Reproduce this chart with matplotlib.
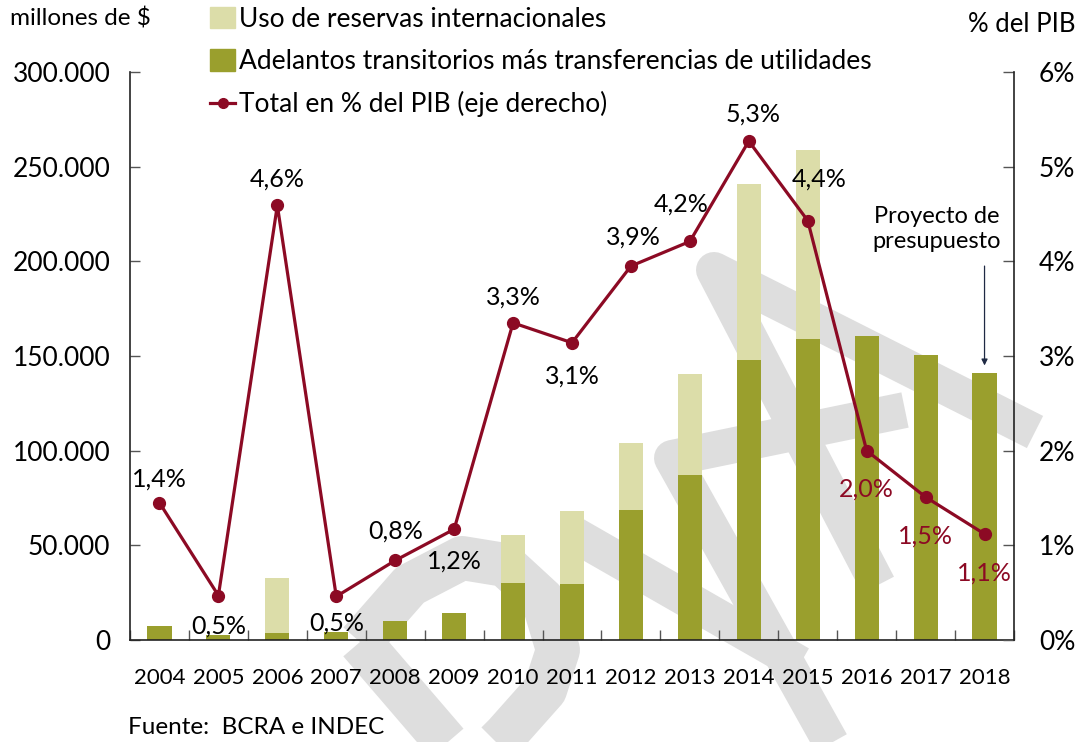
import matplotlib
matplotlib.use("Agg")
import matplotlib.pyplot as plt
from matplotlib.lines import Line2D
from matplotlib.patches import Patch
import numpy as np

plt.rcParams['font.family'] = ['Lato', 'DejaVu Sans']

years = ['2004', '2005', '2006', '2007', '2008', '2009', '2010', '2011',
         '2012', '2013', '2014', '2015', '2016', '2017', '2018']
adelantos = [7400, 2600, 3700, 4200, 10000, 14300, 30100, 29600,
             68700, 87100, 147700, 159000, 160600, 150400, 141000]
reservas = [0, 0, 29000, 0, 0, 0, 25400, 38700,
            35500, 53500, 93100, 99800, 0, 0, 0]
pct_pib = [1.45, 0.47, 4.59, 0.46, 0.84, 1.17, 3.35, 3.14,
           3.95, 4.21, 5.27, 4.43, 2.0, 1.51, 1.12]
pct_labels = ['1,4%', '0,5%', '4,6%', '0,5%', '0,8%', '1,2%', '3,3%', '3,1%',
              '3,9%', '4,2%', '5,3%', '4,4%', '2,0%', '1,5%', '1,1%']
left_ticks = [0, 50000, 100000, 150000, 200000, 250000, 300000]
left_ticklabels = ['0', '50.000', '100.000', '150.000', '200.000', '250.000', '300.000']
right_ticks = [0, 1, 2, 3, 4, 5, 6]
right_ticklabels = ['0%', '1%', '2%', '3%', '4%', '5%', '6%']

DARK = '#9A9F2D'
LIGHT = '#DCDDA9'
RED = '#8C0A24'
W, H = 1083, 742

fig = plt.figure(figsize=(W / 100, H / 100), dpi=100)

# watermark (figure pixel coordinates, y from top)
def wm(pts, lw=36):
    xs = [p[0] / W for p in pts]
    ys = [1 - p[1] / H for p in pts]
    fig.add_artist(Line2D(xs, ys, transform=fig.transFigure, color='#DEDEDE',
                          lw=lw * 0.72, solid_capstyle='butt',
                          solid_joinstyle='round', zorder=-5))

wm([(1035, 432), (714, 270), (878, 585)])
wm([(905, 410), (672, 458), (835, 750)])
wm([(575, 535), (800, 664)])
wm([(470, 770), (360, 642)], lw=44)
wm([(360, 642), (410, 585), (462, 558), (505, 565), (543, 600), (558, 650),
    (545, 690), (505, 735), (470, 770)], lw=44)

ax = fig.add_axes([130 / W, 1 - 640 / H, (1014 - 130) / W, (640 - 72) / H])
ax.patch.set_visible(False)
x = np.arange(len(years))
bw = 0.41
ax.bar(x, adelantos, bw, color=DARK, zorder=2)
ax.bar(x, reservas, bw, bottom=adelantos, color=LIGHT, zorder=2)
ax.set_xlim(-0.5, len(years) - 0.5)
ax.set_ylim(0, 300000)
ax.set_yticks(left_ticks)
ax.set_yticklabels(left_ticklabels, fontsize=19)
ax.set_xticks(x)
ax.set_xticklabels(years, fontsize=16)
ax.tick_params(axis='x', length=0, pad=20)
ax.set_xticks(np.arange(len(years) + 1) - 0.5, minor=True)
ax.tick_params(axis='x', which='minor', direction='in', length=7, width=1, color='#555555')
ax.tick_params(axis='y', direction='in', length=7, width=1, pad=14, color='#555555')
for s in ['top', 'right']:
    ax.spines[s].set_visible(False)
for s in ['left', 'bottom']:
    ax.spines[s].set_color('#222222')
    ax.spines[s].set_linewidth(1.2)

ax2 = ax.twinx()
ax2.patch.set_visible(False)
ax2.set_ylim(0, 6)
ax2.set_yticks(right_ticks)
ax2.set_yticklabels(right_ticklabels, fontsize=19)
ax2.tick_params(axis='y', direction='in', length=8, width=1, pad=18, color='#555555')
for s in ['top', 'left', 'bottom']:
    ax2.spines[s].set_visible(False)
ax2.spines['right'].set_color('#222222')
ax2.spines['right'].set_linewidth(1.2)
ax2.plot(x, pct_pib, color=RED, lw=2.3, marker='o', markersize=8.5, zorder=5)

offsets = [(0, 24), (0, -31), (0, 26), (0, -27), (0, 29), (0, -32), (0, 26), (0, -33),
           (2, 29), (-9, 37), (4, 27), (11, 42), (0, -38), (0, -39), (0, -39)]
for i, (v, lab) in enumerate(zip(pct_pib, pct_labels)):
    col = RED if i >= 12 else 'black'
    ax2.annotate(lab, (x[i], v), xytext=offsets[i], textcoords='offset pixels',
                 ha='center', va='center', fontsize=18, color=col, zorder=6)

ax2.text(937 / W, 1 - 229 / H, 'Proyecto de\npresupuesto', transform=fig.transFigure,
         ha='center', va='center', fontsize=17, linespacing=1.25)
ax2.annotate('', xy=(x[-1], 2.9), xytext=(x[-1], 3.95),
             arrowprops=dict(arrowstyle='-|>', color='#1F2A44', lw=0.9,
                             mutation_scale=9, shrinkA=0, shrinkB=0))

fig.text(10 / W, 1 - 18 / H, 'millones de $', fontsize=17.5, ha='left', va='center')
fig.text(1075 / W, 1 - 24 / H, '% del PIB', fontsize=18.5, ha='right', va='center')
fig.text(128 / W, 1 - 727 / H, 'Fuente:  BCRA e INDEC', fontsize=17.5, ha='left', va='center')

handles = [Patch(color=LIGHT, label='Uso de reservas internacionales'),
           Patch(color=DARK, label='Adelantos transitorios más transferencias de utilidades'),
           Line2D([0], [0], color=RED, lw=2.3, marker='o', markersize=7,
                  label='Total en % del PIB (eje derecho)')]
fig.legend(handles=handles, loc='upper left', bbox_to_anchor=(210 / W, 1 - 7 / H),
           frameon=False, fontsize=19, handlelength=0.95, handleheight=0.85,
           handletextpad=0.15, labelspacing=0.65, borderaxespad=0, borderpad=0)

fig.savefig('out.png', dpi=100)
